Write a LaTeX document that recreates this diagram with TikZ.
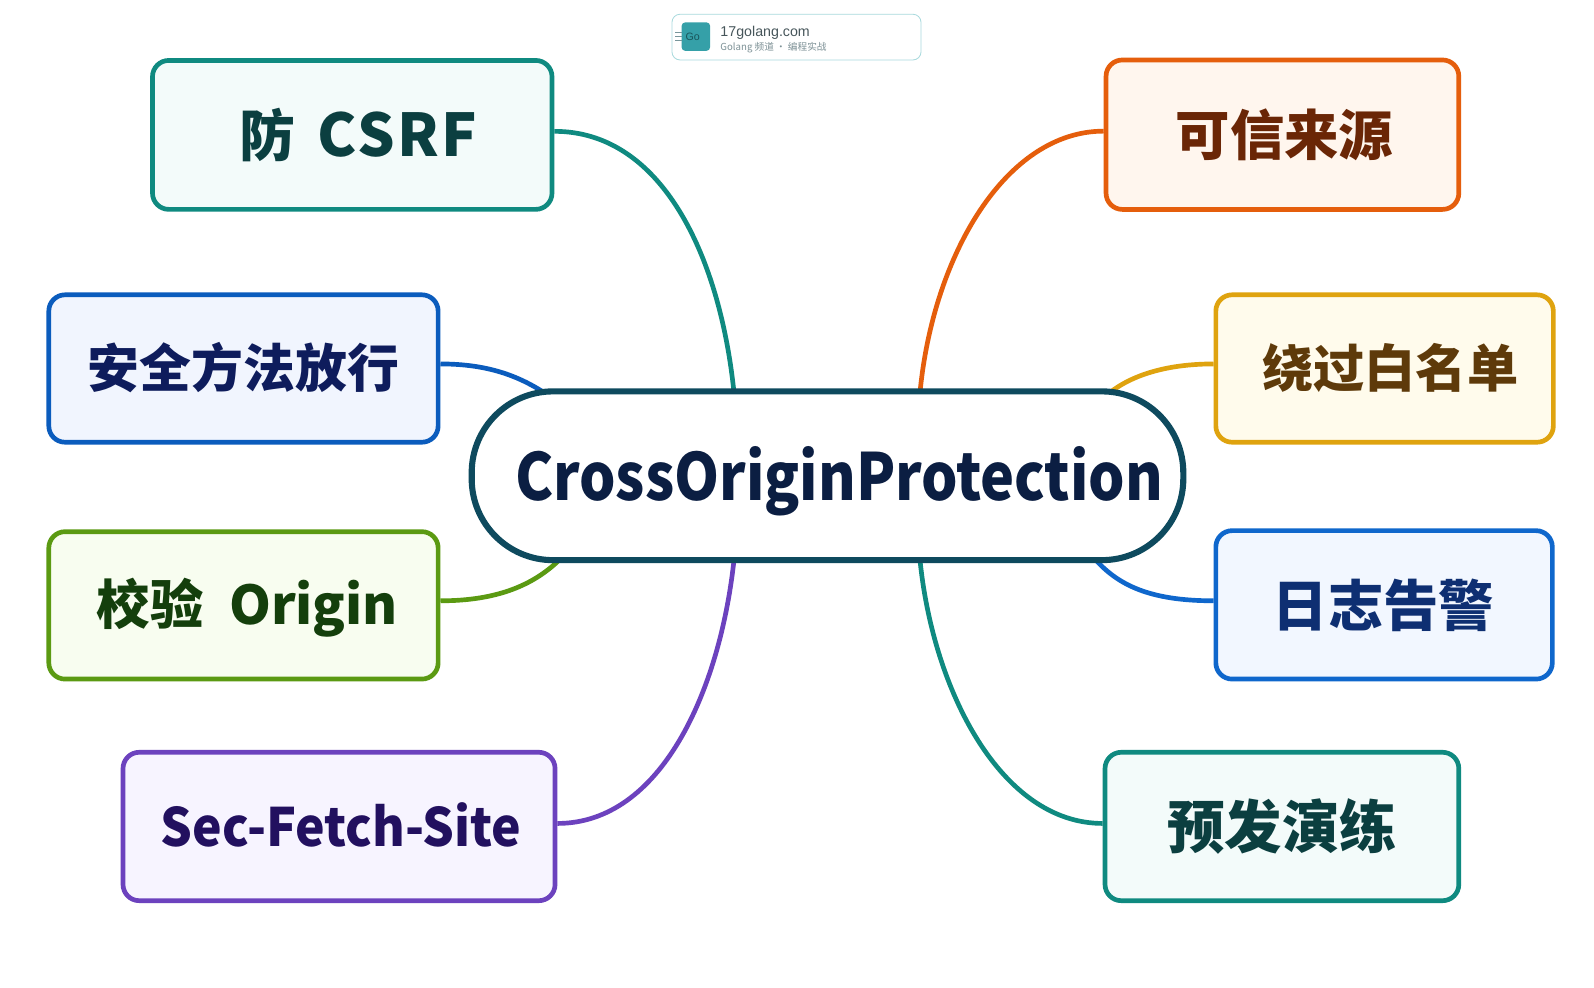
\documentclass[tikz,border=0pt]{standalone}
\usepackage{graphicx}
\usepackage{fontspec}
\setmainfont{Noto Sans CJK SC}
\newfontfamily\badgefont{Liberation Sans}
\newfontfamily\badgecjk{Noto Sans CJK SC}
\newcommand{\fs}[1]{\fontsize{#1}{#1}\selectfont\bfseries}
\definecolor{teal1}{HTML}{0F8A80}\definecolor{teal1f}{HTML}{F3FBFA}\definecolor{teal1t}{HTML}{0B3F40}
\definecolor{blue1}{HTML}{0B5CBD}\definecolor{blue1f}{HTML}{F1F5FE}\definecolor{blue1t}{HTML}{0E1C5C}
\definecolor{green1}{HTML}{5B9A12}\definecolor{green1f}{HTML}{F8FDF0}\definecolor{green1t}{HTML}{143F0C}
\definecolor{purple1}{HTML}{6C42BE}\definecolor{purple1f}{HTML}{F7F4FF}\definecolor{purple1t}{HTML}{22105F}
\definecolor{orange1}{HTML}{E55E0C}\definecolor{orange1f}{HTML}{FFF6EE}\definecolor{orange1t}{HTML}{6A2606}
\definecolor{yellow1}{HTML}{DFA30F}\definecolor{yellow1f}{HTML}{FFFBEC}\definecolor{yellow1t}{HTML}{5E3A0A}
\definecolor{blue2}{HTML}{0F67CC}\definecolor{blue2f}{HTML}{F2F7FF}\definecolor{blue2t}{HTML}{0E2F72}
\definecolor{hub}{HTML}{0E4A5E}\definecolor{hubt}{HTML}{0B1E42}
\definecolor{badgeline}{HTML}{A8DADD}\definecolor{logo}{HTML}{35A0A8}\definecolor{gotext}{HTML}{19555A}
\definecolor{menuline}{HTML}{78969B}\definecolor{nametext}{HTML}{46555A}\definecolor{subtext}{HTML}{7D9196}
\tikzset{
 topic/.style={draw=#1,fill=#1f,line width=4.6pt,rounded corners=16pt,inner sep=0pt},
 link/.style={draw=#1,line width=4.6pt},
 menu/.style={draw=menuline,line width=.7pt},
}
\begin{document}
\begin{tikzpicture}[x=1pt,y=-1pt]
\useasboundingbox (0,0) rectangle (1568,971);
\fill[white] (0,0) rectangle (1568,971);
\coordinate (p1) at (722,386);\coordinate (p2) at (535,386);\coordinate (p3) at (550,551);\coordinate (p4) at (722,551);
\coordinate (q1) at (905,386);\coordinate (q2) at (1092,386);\coordinate (q3) at (1078,551);\coordinate (q4) at (905,551);
\node[topic=teal1,minimum width=393pt,minimum height=146.5pt] (a1) at (346.5,132.7) {};
\node[topic=blue1,minimum width=383pt,minimum height=145pt] (a2) at (239.5,362.5) {};
\node[topic=green1,minimum width=383pt,minimum height=145pt] (a3) at (239.5,595.5) {};
\node[topic=purple1,minimum width=425pt,minimum height=146pt] (a4) at (333.5,813) {};
\node[topic=orange1,minimum width=347pt,minimum height=147pt] (b1) at (1261.5,132.5) {};
\node[topic=yellow1,minimum width=332pt,minimum height=145pt] (b2) at (1362,362.5) {};
\node[topic=blue2,minimum width=331pt,minimum height=146pt] (b3) at (1361.5,595) {};
\node[topic=teal1,minimum width=348pt,minimum height=146pt] (b4) at (1261,813) {};
\draw[link=teal1] ([yshift=3.5pt]a1.east) .. controls (650,129) and (708,250) .. (p1);
\draw[link=blue1] ([yshift=4.5pt]a2.east) .. controls (480,358) and (510,370) .. (p2);
\draw[link=green1] ([yshift=4.5pt]a3.east) .. controls (490,591) and (525,575) .. (p3);
\draw[link=purple1] ([yshift=3pt]a4.east) .. controls (650,810) and (708,680) .. (p4);
\draw[link=orange1] ([yshift=3.5pt]b1.west) .. controls (990,129) and (918,250) .. (q1);
\draw[link=yellow1] ([yshift=4.5pt]b2.west) .. controls (1150,358) and (1115,368) .. (q2);
\draw[link=blue2] ([yshift=4pt]b3.west) .. controls (1130,591) and (1100,575) .. (q3);
\draw[link=teal1] ([yshift=3pt]b4.west) .. controls (985,810) and (918,680) .. (q4);
\node[draw=hub,fill=white,line width=6pt,rounded corners=80pt,minimum width=700pt,minimum height=166pt,inner sep=0pt] (hubnode) at (814,468) {};
\node[text=hubt] (hubtext) at (825.5,473) {\scalebox{0.882}[1]{\fs{64}CrossOriginProtection}};
\node[text=teal1t] (t1) at (352.5,133) {{\fs{55}防}\hspace{22pt}{\fs{58}\addfontfeature{LetterSpace=4}CSRF}};
\node[text=blue1t] (t2) at (239.5,362) {\fs{51}安全方法放行};
\node[text=green1t] (t3) at (243.5,598) {{\fs{52.5}校验}\hspace{25pt}{\fs{52.5}Origin}};
\node[text=purple1t] (t4) at (335.5,811) {\scalebox{0.944}[1]{\fs{52}Sec-Fetch-Site}};
\node[text=orange1t] (t5) at (1263.5,133) {\fs{53.5}可信来源};
\node[text=yellow1t] (t6) at (1367.5,362) {\fs{50.4}绕过白名单};
\node[text=blue2t] (t7) at (1361,595) {\fs{54.5}日志告警};
\node[text=teal1t] (t8) at (1261.5,813) {\fs{56.5}预发演练};
\node[draw=badgeline,fill=white,line width=.8pt,rounded corners=8pt,minimum width=245pt,minimum height=45pt,inner sep=0pt] (badge) at (783.5,36.5) {};
\node[fill=logo,rounded corners=3.5pt,minimum width=28pt,minimum height=28pt,inner sep=0pt] (logonode) at (684.5,36) {};
\node[text=gotext,inner sep=0pt,font=\badgefont\fontsize{10.5}{10.5}\selectfont] (go) at (681.5,36.5) {Go};
\foreach \yy in {32,36,40}{\draw[menu] (664,\yy) -- (671,\yy);}
\node[anchor=west,inner sep=0pt,text=nametext,font=\badgefont\fontsize{14}{14}\selectfont] (name) at (708.5,32) {17golang.com};
\node[anchor=west,inner sep=0pt,text=subtext,font=\badgecjk\fontsize{9.5}{9.5}\selectfont] (sub) at (708.5,47) {Golang 频道 · 编程实战};
\end{tikzpicture}
\end{document}
